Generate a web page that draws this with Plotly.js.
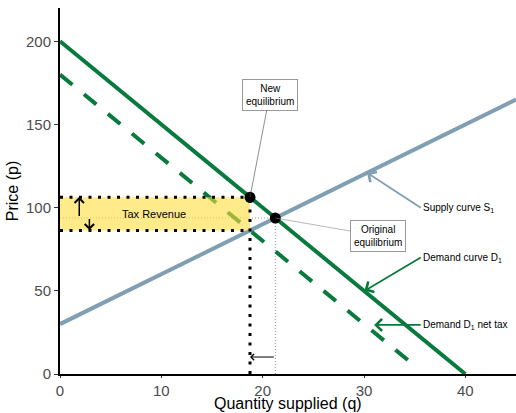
<!DOCTYPE html>
<html>
<head>
<meta charset="utf-8">
<script src="https://cdn.plot.ly/plotly-3.0.1.min.js"></script>
<style>html,body{margin:0;padding:0;background:#fff;}#chart{width:516px;height:413px;}</style>
</head>
<body>
<div id="chart"></div>
<script>
// Data
const supplyQ = [0, 45];
const supplyP = [30, 165];
const demandQ = [0, 40];
const demandP = [200, 0];
const netTaxQ = [0, 35.3];
const netTaxP = [180, 3.5];
const origEqQ = [21.25];
const origEqP = [93.75];
const newEqQ = [18.75];
const newEqP = [106.25];
const producerP = 86.25;
const xTicks = [0, 10, 20, 30, 40];
const yTicks = [0, 50, 100, 150, 200];

const green = '#087a3e';
const blue = '#819fb3';

const q0 = origEqQ[0], p0 = origEqP[0], q1 = newEqQ[0], p1 = newEqP[0];

const traces = [
  {x: [0, q0], y: [p0, p0], mode: 'lines', line: {color: '#999', width: 1, dash: '1px,2px'}, hoverinfo: 'skip'},
  {x: [q0, q0], y: [0, p0], mode: 'lines', line: {color: '#999', width: 1, dash: '1px,2px'}, hoverinfo: 'skip'},
  {x: supplyQ, y: supplyP, mode: 'lines', line: {color: blue, width: 4}, hoverinfo: 'skip'},
  {x: netTaxQ, y: netTaxP, mode: 'lines', line: {color: green, width: 4, dash: '16px,15px'}, hoverinfo: 'skip'},
  {x: demandQ, y: demandP, mode: 'lines', line: {color: green, width: 4}, hoverinfo: 'skip'},
  {x: [0, q1, q1, 0, 0], y: [producerP, producerP, p1, p1, producerP], mode: 'lines', fill: 'toself',
   fillcolor: 'rgba(255,221,60,0.6)', line: {width: 0}, hoverinfo: 'skip'},
  {x: [0, q1], y: [p1, p1], mode: 'lines', line: {color: '#000', width: 3, dash: '3px,6.5px'}, hoverinfo: 'skip'},
  {x: [0, q1], y: [producerP, producerP], mode: 'lines', line: {color: '#000', width: 3, dash: '3px,6.5px'}, hoverinfo: 'skip'},
  {x: [q1, q1], y: [0, p1], mode: 'lines', line: {color: '#000', width: 3, dash: '3px,6.5px'}, hoverinfo: 'skip'},
  {x: newEqQ, y: newEqP, mode: 'markers', marker: {color: '#000', size: 11}, hoverinfo: 'skip'},
  {x: origEqQ, y: origEqP, mode: 'markers', marker: {color: '#000', size: 11}, hoverinfo: 'skip'}
];

const fontFam = 'Liberation Sans, Arial, sans-serif';

const annotations = [
  {x: q1, y: p1, ax: 20.7, ay: 168, axref: 'x', ayref: 'y', text: 'New<br>equilibrium', showarrow: true,
   arrowhead: 0, arrowwidth: 0.6, arrowcolor: '#444', bordercolor: '#999', borderwidth: 1, borderpad: 3,
   bgcolor: '#fff', font: {size: 10, color: '#000', family: fontFam}},
  {x: q0, y: p0, ax: 31.4, ay: 83, axref: 'x', ayref: 'y', text: 'Original<br>equilibrium', showarrow: true,
   arrowhead: 0, arrowwidth: 0.6, arrowcolor: '#888', bordercolor: '#999', borderwidth: 1, borderpad: 3,
   bgcolor: '#fff', font: {size: 10, color: '#000', family: fontFam}},
  {x: 30.3, y: 121, ax: 35.6, ay: 100, axref: 'x', ayref: 'y', xanchor: 'left', text: 'Supply curve S<sub>1</sub>', showarrow: true,
   arrowhead: 4, arrowsize: 1.3, arrowwidth: 1.8, arrowcolor: blue, font: {size: 10, color: '#000', family: fontFam}},
  {x: 30.05, y: 50, ax: 35.6, ay: 70, axref: 'x', ayref: 'y', xanchor: 'left', text: 'Demand curve D<sub>1</sub>', showarrow: true,
   arrowhead: 4, arrowsize: 1.3, arrowwidth: 1.8, arrowcolor: green, font: {size: 10, color: '#000', family: fontFam}},
  {x: 31, y: 29.5, ax: 35.6, ay: 29.5, axref: 'x', ayref: 'y', xanchor: 'left', text: 'Demand D<sub>1</sub> net tax', showarrow: true,
   arrowhead: 4, arrowsize: 1.3, arrowwidth: 1.8, arrowcolor: green, font: {size: 10, color: '#000', family: fontFam}},
  {x: q1, y: 10.2, ax: q0, ay: 10.2, axref: 'x', ayref: 'y', text: '', showarrow: true,
   arrowhead: 4, arrowsize: 1.2, arrowwidth: 1, arrowcolor: '#000'},
  {x: 1.9, y: 106.5, ax: 1.9, ay: 94, axref: 'x', ayref: 'y', text: '', showarrow: true,
   arrowhead: 4, arrowsize: 1.2, arrowwidth: 1.5, arrowcolor: '#000'},
  {x: 2.9, y: 86.5, ax: 2.9, ay: 94, axref: 'x', ayref: 'y', text: '', showarrow: true,
   arrowhead: 4, arrowsize: 1.2, arrowwidth: 1.5, arrowcolor: '#000'},
  {x: 9.3, y: 96, text: 'Tax Revenue', showarrow: false, font: {size: 11, color: '#000', family: fontFam}},
  // x-axis title
  {xref: 'x', yref: 'paper', x: 22.5, y: 0, yanchor: 'top', yshift: -20, borderpad: 0, showarrow: false,
   text: 'Quantity supplied (q)', font: {size: 16, color: '#000', family: fontFam}}
];

const layout = {
  width: 516, height: 413,
  margin: {l: 60, r: 0, t: 8, b: 39},
  paper_bgcolor: '#fff', plot_bgcolor: '#fff',
  showlegend: false,
  font: {family: fontFam},
  xaxis: {
    range: [0, 45], tickvals: xTicks, ticktext: xTicks.map(String), showgrid: false, zeroline: false,
    showline: true, linecolor: '#000', linewidth: 2, ticks: 'outside', ticklen: 2, tickcolor: '#333',
    tickfont: {size: 15, color: '#4d4d4d'}
  },
  yaxis: {
    range: [0, 220], tickvals: yTicks, ticktext: yTicks.map(String), showgrid: false, zeroline: false,
    showline: true, linecolor: '#000', linewidth: 2, ticks: 'outside', ticklen: 4, tickcolor: '#333',
    tickfont: {size: 15, color: '#4d4d4d'},
    title: {text: 'Price (p)', font: {size: 16, color: '#000'}, standoff: 3}
  },
  annotations: annotations
};

Plotly.newPlot('chart', traces, layout, {displayModeBar: false, staticPlot: true});
</script>
</body>
</html>
